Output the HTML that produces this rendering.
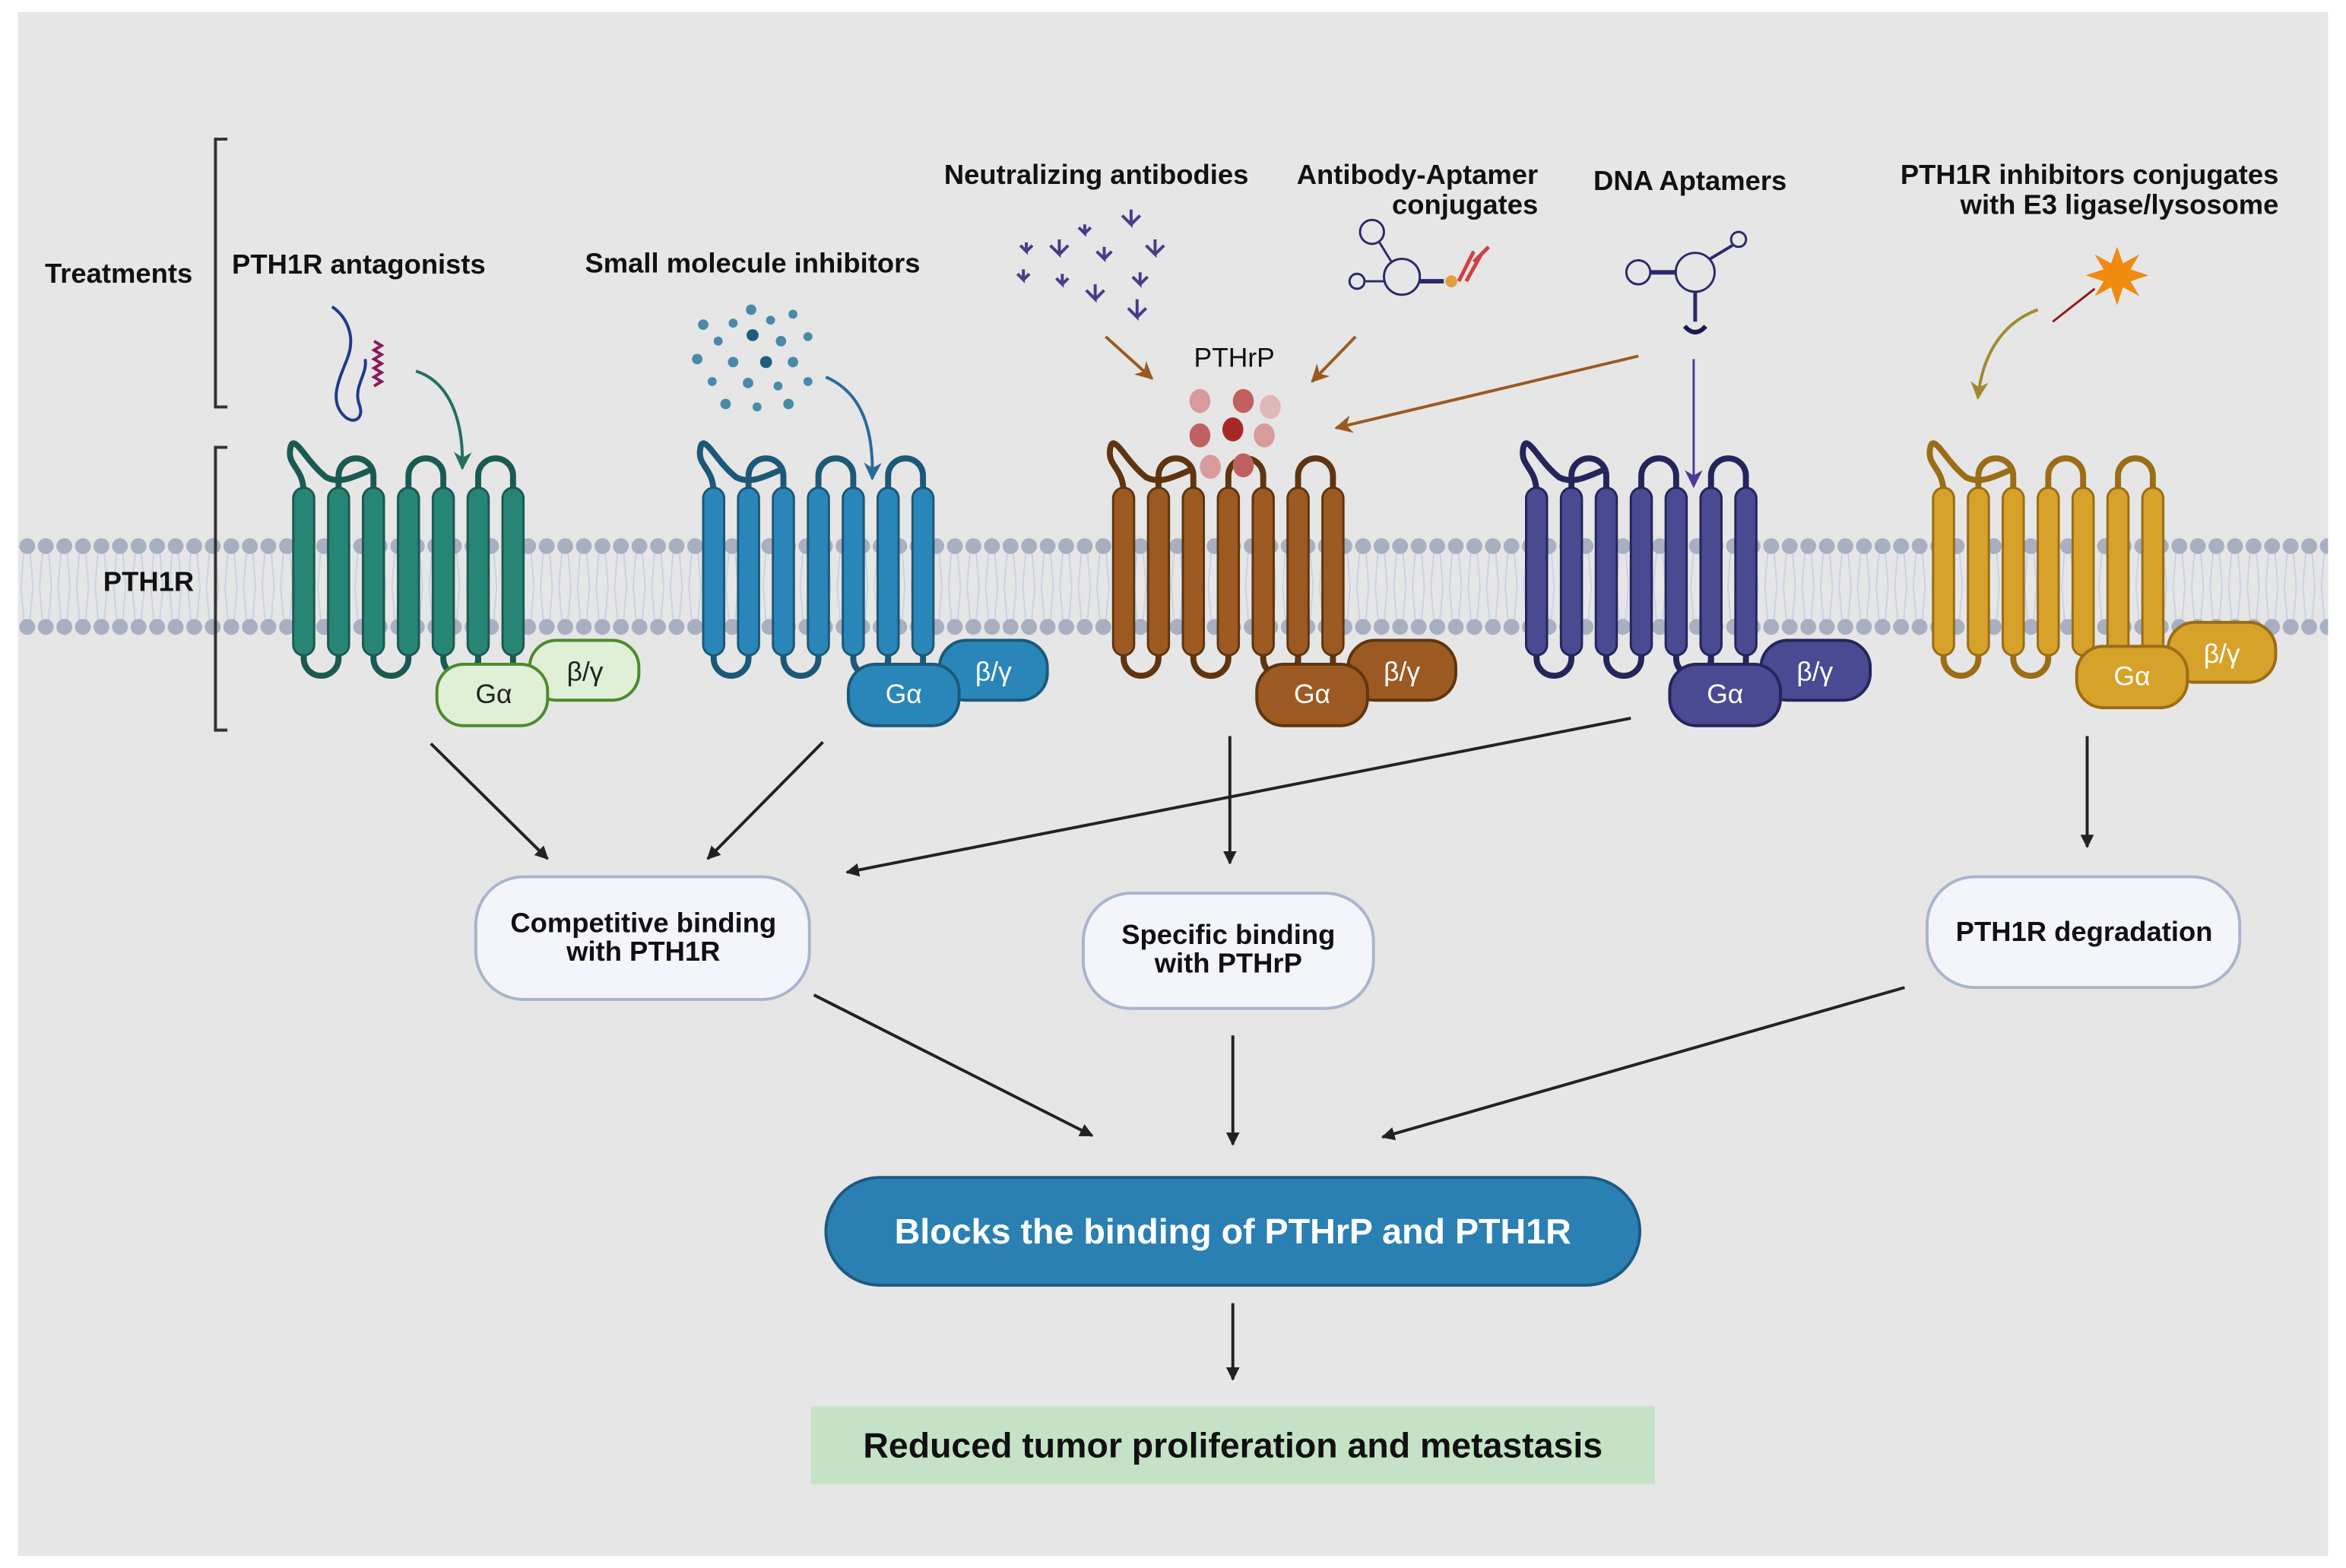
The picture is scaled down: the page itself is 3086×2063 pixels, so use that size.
<!DOCTYPE html>
<html><head><meta charset="utf-8"><style>
html,body{margin:0;padding:0;background:#fff}
svg{display:block}
text{font-family:"Liberation Sans",sans-serif}
.rec path.l{fill:none;stroke:var(--d);stroke-width:4;stroke-linecap:round}
.rec rect{fill:var(--f);stroke:var(--d);stroke-width:1.5}
</style></head><body>
<svg width="3086" height="2063" viewBox="0 0 1568 1048" preserveAspectRatio="none" xmlns="http://www.w3.org/2000/svg">
<defs>
<pattern id="mem" x="12" y="0" width="12.4" height="1048" patternUnits="userSpaceOnUse">
<line x1="4" y1="368" x2="2" y2="392" stroke="#c9d3e4" stroke-width="1"/>
<line x1="8" y1="368" x2="10" y2="392" stroke="#c9d3e4" stroke-width="1"/>
<line x1="4" y1="415" x2="2" y2="392" stroke="#c9d3e4" stroke-width="1"/>
<line x1="8" y1="415" x2="10" y2="392" stroke="#c9d3e4" stroke-width="1"/>
<circle cx="6.2" cy="365" r="5.3" fill="#a7afc0"/>
<circle cx="6.2" cy="419" r="5.3" fill="#a7afc0"/>
</pattern>
<g id="rec" class="rec">
<path class="l" d="M7 330 C7 312 -4 312 -2 300 C0 288 8 308 22 319 C32 324 42 318 52 314"/>
<path class="l" d="M30.3 330 L30.3 318 A11.6 11.6 0 0 1 53.6 318 L53.6 330"/>
<path class="l" d="M77 330 L77 318 A11.6 11.6 0 0 1 100.3 318 L100.3 330"/>
<path class="l" d="M123.6 330 L123.6 318 A11.6 11.6 0 0 1 146.9 318 L146.9 330"/>
<path class="l" d="M7 435 L7 440 A11.6 11.6 0 0 0 30.3 440 L30.3 435"/>
<path class="l" d="M53.6 435 L53.6 440 A11.6 11.6 0 0 0 77 440 L77 435"/>
<path class="l" d="M100.3 435 L100.3 440 A11.6 11.6 0 0 0 123.6 440 L123.6 435"/>
<path class="l" d="M123.6 435 L123.6 452 M146.9 435 L146.9 452"/>
<rect x="0" y="326" width="14" height="112" rx="7"/>
<rect x="23.3" y="326" width="14" height="112" rx="7"/>
<rect x="46.6" y="326" width="14" height="112" rx="7"/>
<rect x="70" y="326" width="14" height="112" rx="7"/>
<rect x="93.3" y="326" width="14" height="112" rx="7"/>
<rect x="116.6" y="326" width="14" height="112" rx="7"/>
<rect x="139.9" y="326" width="14" height="112" rx="7"/>
</g>
<marker id="ah" viewBox="0 0 10 10" refX="9" refY="5" markerWidth="9" markerHeight="9" orient="auto" markerUnits="userSpaceOnUse"><path d="M0 0 L10 5 L0 10 z" fill="#222"/></marker>
<marker id="ahb" viewBox="0 0 10 10" refX="9" refY="5" markerWidth="12" markerHeight="12" orient="auto" markerUnits="userSpaceOnUse"><path d="M0 0 L10 5 L0 10 L3 5 z" fill="#9a5a1e"/></marker>
<marker id="ahg" viewBox="0 0 10 10" refX="9" refY="5" markerWidth="12" markerHeight="12" orient="auto" markerUnits="userSpaceOnUse"><path d="M0 0 L10 5 L0 10 L3 5 z" fill="#236e60"/></marker>
<marker id="ahbl" viewBox="0 0 10 10" refX="9" refY="5" markerWidth="12" markerHeight="12" orient="auto" markerUnits="userSpaceOnUse"><path d="M0 0 L10 5 L0 10 L3 5 z" fill="#2a6a9a"/></marker>
<marker id="ahp" viewBox="0 0 10 10" refX="9" refY="5" markerWidth="12" markerHeight="12" orient="auto" markerUnits="userSpaceOnUse"><path d="M0 0 L10 5 L0 10 L3 5 z" fill="#4b3a9a"/></marker>
<marker id="ahy" viewBox="0 0 10 10" refX="9" refY="5" markerWidth="12" markerHeight="12" orient="auto" markerUnits="userSpaceOnUse"><path d="M0 0 L10 5 L0 10 L3 5 z" fill="#a08a30"/></marker>
</defs>
<rect width="1568" height="1048" fill="#fff"/>
<rect x="12" y="8" width="1544" height="1032" fill="#e6e6e6"/>
<rect x="12" y="358" width="1544" height="68" fill="#e6e6e6"/>
<rect x="12" y="358" width="1544" height="68" fill="url(#mem)"/>

<path d="M152 93 H144 V272 H152" fill="none" stroke="#333" stroke-width="2"/>
<path d="M152 299 H144 V488 H152" fill="none" stroke="#333" stroke-width="2"/>
<text x="30" y="189" font-size="18.5" font-weight="bold" fill="#111">Treatments</text>
<text x="69" y="395" font-size="18.5" font-weight="bold" fill="#111">PTH1R</text>

<use href="#rec" x="196" style="--f:#278576;--d:#1b5a52"/>
<use href="#rec" x="470" style="--f:#2a86b8;--d:#1c5878"/>
<use href="#rec" x="744" style="--f:#9c5a22;--d:#5e3510"/>
<use href="#rec" x="1020" style="--f:#4a4a92;--d:#25255c"/>
<use href="#rec" x="1292" style="--f:#d6a22a;--d:#9a6d16"/>

<g font-size="18" text-anchor="middle">
<rect x="354" y="428" width="73" height="40" rx="18" fill="#dff0d6" stroke="#4d8a2e" stroke-width="2"/>
<rect x="292" y="444" width="74" height="41" rx="18" fill="#dff0d6" stroke="#4d8a2e" stroke-width="2"/>
<text x="330" y="470" fill="#222">Gα</text><text x="391" y="455" fill="#222">β/γ</text>
<rect x="628" y="428" width="72" height="40" rx="18" fill="#2a86b8" stroke="#1c5878" stroke-width="2"/>
<rect x="567" y="444" width="74" height="41" rx="18" fill="#2a86b8" stroke="#1c5878" stroke-width="2"/>
<text x="604" y="470" fill="#fff">Gα</text><text x="664" y="455" fill="#fff">β/γ</text>
<rect x="901" y="428" width="72" height="40" rx="18" fill="#9c5a22" stroke="#5e3510" stroke-width="2"/>
<rect x="840" y="444" width="74" height="41" rx="18" fill="#9c5a22" stroke="#5e3510" stroke-width="2"/>
<text x="877" y="470" fill="#fff">Gα</text><text x="937" y="455" fill="#fff">β/γ</text>
<rect x="1177" y="428" width="73" height="40" rx="18" fill="#4a4a92" stroke="#25255c" stroke-width="2"/>
<rect x="1116" y="444" width="74" height="41" rx="18" fill="#4a4a92" stroke="#25255c" stroke-width="2"/>
<text x="1153" y="470" fill="#fff">Gα</text><text x="1213" y="455" fill="#fff">β/γ</text>
<rect x="1449" y="416" width="72" height="40" rx="18" fill="#d6a22a" stroke="#9a6d16" stroke-width="2"/>
<rect x="1388" y="432" width="74" height="41" rx="18" fill="#d6a22a" stroke="#9a6d16" stroke-width="2"/>
<text x="1425" y="458" fill="#fff">Gα</text><text x="1485" y="443" fill="#fff">β/γ</text>
</g>

<g font-size="18.5" font-weight="bold" fill="#111">
<text x="155" y="183">PTH1R antagonists</text>
<text x="391" y="182">Small molecule inhibitors</text>
<text x="631" y="123">Neutralizing antibodies</text>
<text x="1028" y="123" text-anchor="end">Antibody-Aptamer</text>
<text x="1028" y="143" text-anchor="end">conjugates</text>
<text x="1065" y="127">DNA Aptamers</text>
<text x="1523" y="123" text-anchor="end">PTH1R inhibitors conjugates</text>
<text x="1523" y="143" text-anchor="end">with E3 ligase/lysosome</text>
</g>
<text x="798" y="245" font-size="18" fill="#111">PTHrP</text>

<path d="M222 205 C232 212 238 225 232 240 C226 255 220 268 230 278 C236 284 244 280 240 270 C236 258 246 250 244 240" fill="none" stroke="#1e3a8a" stroke-width="2"/>
<path d="M250 228 l5 3 -5 3 5 3 -5 3 5 3 -5 3 5 3 -5 3 5 3 -5 3" fill="none" stroke="#8a1a5a" stroke-width="2"/>
<path d="M278 248 C300 255 310 280 309 313" fill="none" stroke="#236e60" stroke-width="2" marker-end="url(#ahg)"/>
<g fill="#4a8aa8">
<circle cx="502" cy="207" r="3.5"/><circle cx="515" cy="214" r="3"/><circle cx="490" cy="216" r="3"/><circle cx="470" cy="217" r="3.5"/><circle cx="530" cy="210" r="3"/>
<circle cx="480" cy="228" r="3"/><circle cx="503" cy="224" r="4" fill="#1d5e7e"/><circle cx="522" cy="228" r="3.5"/><circle cx="540" cy="225" r="3"/><circle cx="466" cy="240" r="3.5"/>
<circle cx="490" cy="242" r="3.5"/><circle cx="512" cy="242" r="4" fill="#1d5e7e"/><circle cx="530" cy="242" r="3.5"/><circle cx="476" cy="255" r="3"/><circle cx="500" cy="256" r="3.5"/>
<circle cx="520" cy="258" r="3"/><circle cx="540" cy="255" r="3"/><circle cx="485" cy="270" r="3.5"/><circle cx="506" cy="272" r="3"/><circle cx="527" cy="270" r="3.5"/>
</g>
<path d="M552 252 C575 262 584 285 583 320" fill="none" stroke="#2a6a9a" stroke-width="2" marker-end="url(#ahbl)"/>
<g stroke="#4b3a8a" stroke-width="2" fill="none">
<path d="M756 140 v10 l-6 -6 M756 150 l6 -6"/><path d="M772 160 v10 l-6 -6 M772 170 l6 -6"/>
<path d="M708 160 v10 l-6 -6 M708 170 l6 -6"/><path d="M738 165 v8 l-5 -5 M738 173 l5 -5"/>
<path d="M684 180 v7 l-4 -4 M684 187 l4 -4"/><path d="M710 183 v7 l-4 -4 M710 190 l4 -4"/>
<path d="M732 190 v10 l-6 -6 M732 200 l6 -6"/><path d="M762 182 v8 l-5 -5 M762 190 l5 -5"/>
<path d="M760 200 v12 l-6 -6 M760 212 l6 -6"/><path d="M686 162 v6 l-4 -4 M686 168 l4 -4"/><path d="M725 150 v6 l-4 -4 M725 156 l4 -4"/>
</g>
<g stroke="#2a2a6a" stroke-width="1.5" fill="none">
<circle cx="917" cy="155" r="8"/><circle cx="937" cy="185" r="12"/><circle cx="907" cy="188" r="5"/>
<line x1="922" y1="162" x2="930" y2="175"/><line x1="912" y1="188" x2="925" y2="188"/><line x1="949" y1="188" x2="965" y2="188" stroke-width="3"/>
</g>
<circle cx="970" cy="188" r="4" fill="#e0a040"/>
<path d="M975 188 l10 -20 M980 188 l10 -18 M985 175 l10 -10" stroke="#d04040" stroke-width="2.5" fill="none"/>
<g stroke="#2a2a6a" stroke-width="1.5" fill="none">
<circle cx="1095" cy="182" r="8"/><circle cx="1133" cy="182" r="13"/><circle cx="1162" cy="160" r="5"/>
<line x1="1103" y1="182" x2="1120" y2="182" stroke-width="3"/><line x1="1143" y1="173" x2="1158" y2="164" stroke-width="2"/>
<line x1="1133" y1="195" x2="1133" y2="215" stroke-width="2.5"/>
</g>
<path d="M1126 218 q7 8 14 0" stroke="#1a1a4a" stroke-width="3" fill="none"/>
<polygon points="1415,165 1419,176 1430,170 1424,180 1436,184 1424,188 1430,198 1419,192 1415,204 1411,192 1400,198 1406,188 1394,184 1406,180 1400,170 1411,176" fill="#f08a10"/>
<line x1="1372" y1="215" x2="1400" y2="193" stroke="#8a1a1a" stroke-width="1.5"/>
<path d="M1362 207 C1340 215 1325 235 1322 266" fill="none" stroke="#a08a30" stroke-width="2" marker-end="url(#ahy)"/>

<g>
<ellipse cx="802" cy="268" rx="7" ry="8" fill="#d89a9a"/><ellipse cx="831" cy="268" rx="7" ry="8" fill="#c06060"/><ellipse cx="849" cy="272" rx="7" ry="8" fill="#e0b8b8"/>
<ellipse cx="802" cy="291" rx="7" ry="8" fill="#c06060"/><ellipse cx="824" cy="287" rx="7" ry="8" fill="#a82828"/><ellipse cx="845" cy="291" rx="7" ry="8" fill="#d89a9a"/>
<ellipse cx="809" cy="312" rx="7" ry="8" fill="#d89a9a"/><ellipse cx="831" cy="311" rx="7" ry="8" fill="#c06060"/>
</g>
<line x1="739" y1="225" x2="770" y2="253" stroke="#9a5a1e" stroke-width="2" marker-end="url(#ahb)"/>
<line x1="906" y1="225" x2="877" y2="255" stroke="#9a5a1e" stroke-width="2" marker-end="url(#ahb)"/>
<line x1="1095" y1="238" x2="893" y2="286" stroke="#9a5a1e" stroke-width="2" marker-end="url(#ahb)"/>
<line x1="1132" y1="240" x2="1132" y2="325" stroke="#4b3a9a" stroke-width="1.5" marker-end="url(#ahp)"/>

<g stroke="#222" stroke-width="2" marker-end="url(#ah)">
<line x1="288" y1="497" x2="366" y2="574"/>
<line x1="550" y1="496" x2="473" y2="574"/>
<line x1="1090" y1="480" x2="566" y2="583"/>
<line x1="822" y1="492" x2="822" y2="577"/>
<line x1="1395" y1="492" x2="1395" y2="566"/>
<line x1="544" y1="665" x2="730" y2="759"/>
<line x1="824" y1="692" x2="824" y2="765"/>
<line x1="1273" y1="660" x2="924" y2="760"/>
<line x1="824" y1="871" x2="824" y2="922"/>
</g>

<rect x="318" y="586" width="223" height="82" rx="32" fill="#f3f5fa" stroke="#a9b4cc" stroke-width="2"/>
<text x="430" y="623" font-size="18.5" font-weight="bold" text-anchor="middle" fill="#111">Competitive binding</text>
<text x="430" y="642" font-size="18.5" font-weight="bold" text-anchor="middle" fill="#111">with PTH1R</text>
<rect x="724" y="597" width="194" height="77" rx="32" fill="#f3f5fa" stroke="#a9b4cc" stroke-width="2"/>
<text x="821" y="631" font-size="18.5" font-weight="bold" text-anchor="middle" fill="#111">Specific binding</text>
<text x="821" y="650" font-size="18.5" font-weight="bold" text-anchor="middle" fill="#111">with PTHrP</text>
<rect x="1288" y="586" width="209" height="74" rx="32" fill="#f3f5fa" stroke="#a9b4cc" stroke-width="2"/>
<text x="1393" y="629" font-size="18.5" font-weight="bold" text-anchor="middle" fill="#111">PTH1R degradation</text>

<rect x="552" y="787" width="544" height="72" rx="36" fill="#2a80b2" stroke="#1c5a80" stroke-width="2"/>
<text x="824" y="831" font-size="23.7" font-weight="bold" text-anchor="middle" fill="#fff">Blocks the binding of PTHrP and PTH1R</text>

<rect x="542" y="940" width="564" height="52" fill="#c5e2c6"/>
<text x="824" y="974" font-size="23.6" font-weight="bold" text-anchor="middle" fill="#111">Reduced tumor proliferation and metastasis</text>
</svg>
</body></html>
